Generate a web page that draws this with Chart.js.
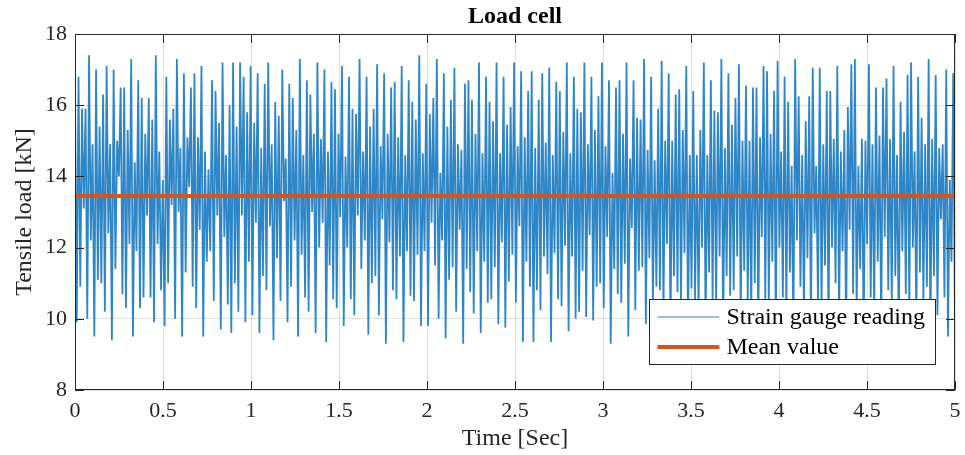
<!DOCTYPE html>
<html lang="en">
<head>
    <meta charset="UTF-8">
    <title>Load cell</title>
    <script src="https://cdn.jsdelivr.net/npm/chart.js"></script>
    <style>
        html, body {
            margin: 0;
            padding: 0;
            background: #fff;
        }

        .chart-container {
            position: relative;
            width: 965px;
            height: 455px;
        }
    </style>
</head>
<body>

    <div class="chart-container">
        <canvas id="loadChart"></canvas>
    </div>

    <script>
        const strain = [
            16.3, 9.9, 16.8, 10.9, 15.9, 13.1, 15.9, 10.0, 17.4, 12.2,
            14.9, 9.5, 17.0, 11.1, 15.4, 11.0, 16.3, 10.2, 17.1, 12.4,
            14.9, 9.4, 17.0, 11.4, 15.0, 14.0, 16.5, 10.7, 16.5, 10.3,
            15.3, 12.1, 17.3, 9.5, 14.4, 11.9, 16.7, 10.3, 16.2, 10.6,
            15.2, 12.9, 16.2, 10.6, 15.6, 9.9, 17.4, 12.1, 14.7, 10.8,
            13.9, 9.8, 16.8, 11.0, 15.6, 13.2, 15.9, 10.0, 17.3, 13.0,
            14.8, 9.5, 16.9, 11.3, 15.1, 13.7, 16.5, 10.9, 16.9, 10.3,
            15.1, 12.5, 17.1, 9.5, 14.7, 11.6, 14.2, 11.9, 16.7, 10.5,
            16.4, 12.9, 15.5, 9.7, 17.2, 12.3, 14.6, 10.4, 16.0, 9.6,
            17.2, 11.0, 15.4, 10.2, 17.2, 12.9, 16.8, 9.9, 15.8, 11.6,
            17.1, 10.1, 15.5, 12.7, 16.9, 9.6, 14.8, 11.2, 16.6, 10.8,
            17.2, 12.6, 14.9, 9.4, 16.1, 11.7, 15.7, 10.5, 17.0, 13.3,
            14.5, 9.9, 16.6, 10.9, 16.2, 12.2, 15.3, 9.5, 17.3, 11.8,
            14.6, 10.6, 16.7, 10.2, 16.3, 13.0, 15.2, 9.6, 17.2, 12.0,
            15.05, 12.7, 17.0, 9.35, 14.7, 11.5, 16.65, 10.55, 16.45, 10.3,
            15.2, 12.85, 17.1, 9.8, 14.55, 12.0, 16.8, 10.55, 15.9, 10.1,
            15.75, 12.9, 17.3, 11.4, 14.7, 12.2, 16.8, 9.55, 15.4, 11.0,
            15.9, 11.2, 17.15, 10.1, 14.85, 12.8, 16.9, 9.3, 15.2, 12.15,
            16.5, 10.8, 16.65, 10.55, 15.1, 11.75, 17.1, 9.35, 14.6, 11.9,
            16.7, 10.65, 16.1, 10.5, 15.6, 11.8, 17.4, 9.8, 14.65, 11.9,
            16.6, 9.8, 15.75, 12.7, 16.2, 11.5, 17.3, 10.0, 14.1, 12.2,
            16.9, 9.45, 15.4, 11.1, 16.15, 11.45, 17.05, 10.2, 14.9, 12.5,
            14.75, 9.3, 16.6, 11.4, 16.7, 10.75, 16.15, 10.15, 15.2, 11.9,
            17.2, 9.6, 14.65, 11.6, 16.8, 10.45, 16.1, 10.55, 15.55, 11.45,
            17.2, 9.85, 14.65, 12.15, 16.8, 9.75, 15.45, 11.05, 15.95, 11.8,
            17.2, 10.45, 14.85, 12.6, 16.95, 9.35, 15.1, 11.6, 16.4, 10.9,
            16.95, 9.35, 14.8, 10.8, 16.15, 10.25, 16.9, 11.75, 14.95, 11.25,
            17.05, 9.35, 14.6, 11.85, 16.65, 10.55, 16.4, 10.35, 15.25, 12.05,
            17.2, 9.65, 14.65, 11.75, 16.8, 10.0, 15.9, 10.2, 15.8, 11.35,
            17.2, 10.05, 14.9, 12.35, 16.8, 9.95, 15.3, 10.9, 16.25, 11.0,
            17.2, 10.3, 14.85, 12.3, 16.7, 9.3, 14.1, 11.4, 16.5, 10.7,
            16.7, 10.45, 15.2, 11.55, 17.2, 9.5, 14.5, 12.55, 16.7, 10.25,
            15.65, 11.35, 15.6, 11.45, 17.3, 9.85, 14.75, 11.7, 16.8, 10.4,
            14.45, 10.9, 15.9, 10.8, 17.25, 10.1, 15.0, 12.1, 16.9, 9.55,
            15.0, 11.2, 16.3, 10.75, 16.45, 10.35, 15.3, 11.85, 17.1, 9.55,
            14.6, 10.85, 16.4, 10.55, 14.6, 10.25, 15.3, 12.0, 17.2, 9.65,
            14.6, 11.3, 16.7, 10.5, 15.85, 10.45, 15.8, 11.75, 17.3, 9.55,
            14.8, 11.2, 16.9, 10.65, 15.45, 10.8, 16.2, 11.75, 17.15, 9.9,
            15.0, 11.35, 16.55, 10.45, 15.0, 10.05, 16.5, 11.0, 16.5, 9.7,
            15.1, 12.3, 17.1, 10.4, 16.95, 10.4, 15.2, 11.6, 16.4, 9.6,
            17.25, 12.0, 14.7, 10.6, 16.8, 10.2, 16.1, 11.3, 14.3, 9.5,
            17.3, 12.2, 16.25, 10.9, 14.6, 10.1, 15.55, 11.7, 16.25, 9.7,
            17.05, 12.4, 14.3, 10.5, 17.05, 10.3, 14.9, 11.5, 16.4, 9.5,
            16.4, 12.0, 15.05, 11.0, 17.1, 10.0, 14.7, 11.9, 15.3, 9.6,
            15.95, 12.5, 17.15, 10.7, 17.3, 10.3, 14.3, 11.4, 15.05, 9.4,
            15.0, 12.1, 17.15, 10.6, 14.9, 10.2, 16.5, 11.6, 15.15, 9.7,
            16.5, 12.3, 16.75, 10.8, 15.05, 10.4, 17.1, 11.2, 14.6, 9.5,
            16.1, 11.9, 15.25, 10.7, 16.85, 10.1, 17.2, 12.0, 14.7, 9.8,
            16.8, 11.3, 15.65, 10.5, 14.9, 10.9, 17.3, 9.5, 15.05, 11.2,
            16.85, 10.1, 14.8, 12.8, 14.9, 10.6, 17.0, 9.5, 13.9, 11.6, 16.9, 9.45
        ];
        const meanValue = 13.45;
        const duration = 5;

        const xTicks = [0, 0.5, 1, 1.5, 2, 2.5, 3, 3.5, 4, 4.5, 5];
        const yTicks = [8, 10, 12, 14, 16, 18];

        const serif = "'Liberation Serif', 'Times New Roman', serif";
        const axisColor = '#262626';
        const gridColor = 'rgba(38, 38, 38, 0.15)';

        // time stamps of the evenly spaced samples
        const dt = duration / (strain.length - 1);
        const strainPoints = strain.map((v, i) => ({ x: i * dt, y: v }));

        // MATLAB-like box, inward ticks, title and legend
        const matlabAxes = {
            id: 'matlabAxes',
            afterDatasetsDraw(chart) {
                const { ctx, chartArea: a, scales: { x, y } } = chart;
                ctx.save();
                ctx.strokeStyle = axisColor;
                ctx.lineWidth = 1;
                ctx.strokeRect(a.left + 0.5, a.top + 0.5, a.width - 1, a.height - 1);

                const len = 9;
                ctx.beginPath();
                xTicks.forEach(v => {
                    const px = Math.round(x.getPixelForValue(v)) + 0.5;
                    ctx.moveTo(px, a.bottom);
                    ctx.lineTo(px, a.bottom - len);
                    ctx.moveTo(px, a.top);
                    ctx.lineTo(px, a.top + len);
                });
                yTicks.forEach(v => {
                    const py = Math.round(y.getPixelForValue(v)) + 0.5;
                    ctx.moveTo(a.left, py);
                    ctx.lineTo(a.left + len, py);
                    ctx.moveTo(a.right, py);
                    ctx.lineTo(a.right - len, py);
                });
                ctx.stroke();

                // title centred over the axes
                ctx.fillStyle = '#000';
                ctx.font = 'bold 24px ' + serif;
                ctx.textAlign = 'center';
                ctx.textBaseline = 'middle';
                ctx.fillText('Load cell', (a.left + a.right) / 2, a.top - 17);
                ctx.restore();
            },
            afterDraw(chart) {
                const { ctx, chartArea: a } = chart;
                const sets = chart.data.datasets;
                ctx.save();
                ctx.font = '24px ' + serif;
                const textW = Math.max(...sets.map(d => ctx.measureText(d.label).width));
                const lineLen = 62;
                const w = 8 + lineLen + 7 + textW + 10;
                const h = 65;
                const right = a.right - 20;
                const bottom = a.bottom - 26;
                const left = right - w;
                const top = bottom - h;

                ctx.fillStyle = '#fff';
                ctx.fillRect(left, top, w, h);
                ctx.strokeStyle = axisColor;
                ctx.lineWidth = 1;
                ctx.strokeRect(Math.round(left) + 0.5, Math.round(top) + 0.5, Math.round(w), Math.round(h));

                sets.forEach((d, i) => {
                    const rowY = top + 18 + i * 30;
                    ctx.strokeStyle = d.borderColor;
                    ctx.lineWidth = d.label === 'Mean value' ? d.borderWidth : 1.2;
                    ctx.beginPath();
                    ctx.moveTo(left + 8, rowY);
                    ctx.lineTo(left + 8 + lineLen, rowY);
                    ctx.stroke();
                    ctx.fillStyle = '#000';
                    ctx.textAlign = 'left';
                    ctx.textBaseline = 'middle';
                    ctx.fillText(d.label, left + 8 + lineLen + 7, rowY + 1);
                });
                ctx.restore();
            }
        };

        const ctx = document.getElementById('loadChart').getContext('2d');
        const loadChart = new Chart(ctx, {
            type: 'line',
            data: {
                datasets: [{
                    label: 'Strain gauge reading',
                    data: strainPoints,
                    borderColor: '#2F86C6',
                    borderWidth: 1.8,
                    pointRadius: 0,
                    tension: 0,
                    order: 1
                }, {
                    label: 'Mean value',
                    data: [{ x: 0, y: meanValue }, { x: duration, y: meanValue }],
                    borderColor: '#D95319',
                    borderWidth: 4,
                    pointRadius: 0,
                    order: 0
                }]
            },
            options: {
                responsive: true,
                maintainAspectRatio: false,
                animation: false,
                events: [],
                layout: {
                    padding: { top: 34, right: 10, bottom: 0, left: 0 }
                },
                plugins: {
                    legend: { display: false },
                    tooltip: { enabled: false },
                    title: { display: false }
                },
                scales: {
                    x: {
                        type: 'linear',
                        min: 0,
                        max: duration,
                        afterBuildTicks: s => { s.ticks = xTicks.map(v => ({ value: v })); },
                        afterFit: s => {
                            s.height = 65;
                            s.paddingLeft = 0;
                            s.paddingRight = 0;
                        },
                        ticks: {
                            font: { family: serif, size: 22 },
                            color: axisColor,
                            padding: 8,
                            maxRotation: 0,
                            autoSkip: false,
                            callback: v => v
                        },
                        grid: { color: gridColor, drawTicks: false },
                        border: { display: false },
                        title: {
                            display: true,
                            text: 'Time [Sec]',
                            font: { family: serif, size: 24 },
                            color: axisColor,
                            padding: { top: 0, bottom: 2 }
                        }
                    },
                    y: {
                        min: 8,
                        max: 18,
                        afterBuildTicks: s => { s.ticks = yTicks.map(v => ({ value: v })); },
                        afterFit: s => {
                            s.width = 75;
                            s.paddingTop = 0;
                            s.paddingBottom = 0;
                        },
                        ticks: {
                            font: { family: serif, size: 22 },
                            color: axisColor,
                            padding: 8,
                            callback: v => v
                        },
                        grid: { color: gridColor, drawTicks: false },
                        border: { display: false },
                        title: {
                            display: true,
                            text: 'Tensile load [kN]',
                            font: { family: serif, size: 24 },
                            color: axisColor,
                            padding: { top: 10, bottom: 0 }
                        }
                    }
                }
            },
            plugins: [matlabAxes]
        });
    </script>

</body>
</html>
